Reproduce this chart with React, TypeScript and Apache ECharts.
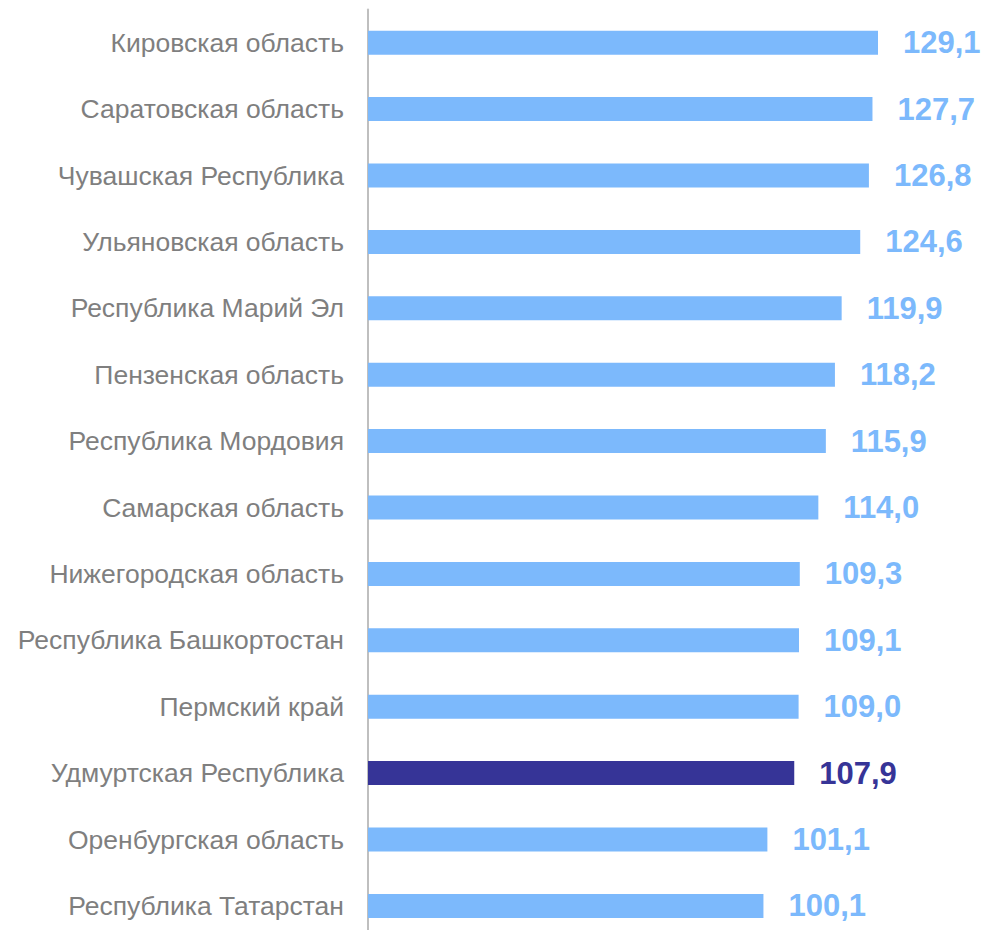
import React, { useEffect, useRef } from "react";
import * as echarts from "echarts";

const regions = [
  "Кировская область",
  "Саратовская область",
  "Чувашская Республика",
  "Ульяновская область",
  "Республика Марий Эл",
  "Пензенская область",
  "Республика Мордовия",
  "Самарская область",
  "Нижегородская область",
  "Республика Башкортостан",
  "Пермский край",
  "Удмуртская Республика",
  "Оренбургская область",
  "Республика Татарстан",
];

const values = [129.1, 127.7, 126.8, 124.6, 119.9, 118.2, 115.9, 114.0, 109.3, 109.1, 109.0, 107.9, 101.1, 100.1];

const highlighted = "Удмуртская Республика";

const BASE = "#7cb9fc";
const HIGH = "#363497";
const FONT = "'Liberation Sans', Arial, sans-serif";

export default function App() {
  const ref = useRef<HTMLDivElement>(null);
  useEffect(() => {
    if (!ref.current) return;
    const chart = echarts.init(ref.current, undefined, { renderer: "svg" });
    chart.setOption({
      animation: false,
      grid: { left: 368, top: 9.5, width: 510 * (140 / 129.1), height: 929.6 },
      xAxis: {
        type: "value",
        min: 0,
        max: 140,
        show: false,
      },
      yAxis: {
        type: "category",
        data: regions,
        inverse: true,
        axisLine: { show: true, lineStyle: { color: "#bfbfbf", width: 2 } },
        axisTick: { show: false },
        axisLabel: {
          color: "#7f7f7f",
          fontSize: 26.5,
          fontFamily: FONT,
          margin: 24,
        },
      },
      series: [
        {
          type: "bar",
          barWidth: 24,
          data: values.map((v, i) => {
            const hi = regions[i] === highlighted;
            return {
              value: v,
              itemStyle: { color: hi ? HIGH : BASE },
              label: { color: hi ? HIGH : BASE },
            };
          }),
          label: {
            show: true,
            position: "right",
            distance: 25,
            fontSize: 31,
            fontWeight: "bold",
            fontFamily: FONT,
            formatter: (p: any) => p.value.toFixed(1).replace(".", ","),
          },
        },
      ],
    });
    return () => chart.dispose();
  }, []);
  return (
    <div
      ref={ref}
      style={{ position: "absolute", left: 0, top: 0, width: 985, height: 945 }}
    />
  );
}
